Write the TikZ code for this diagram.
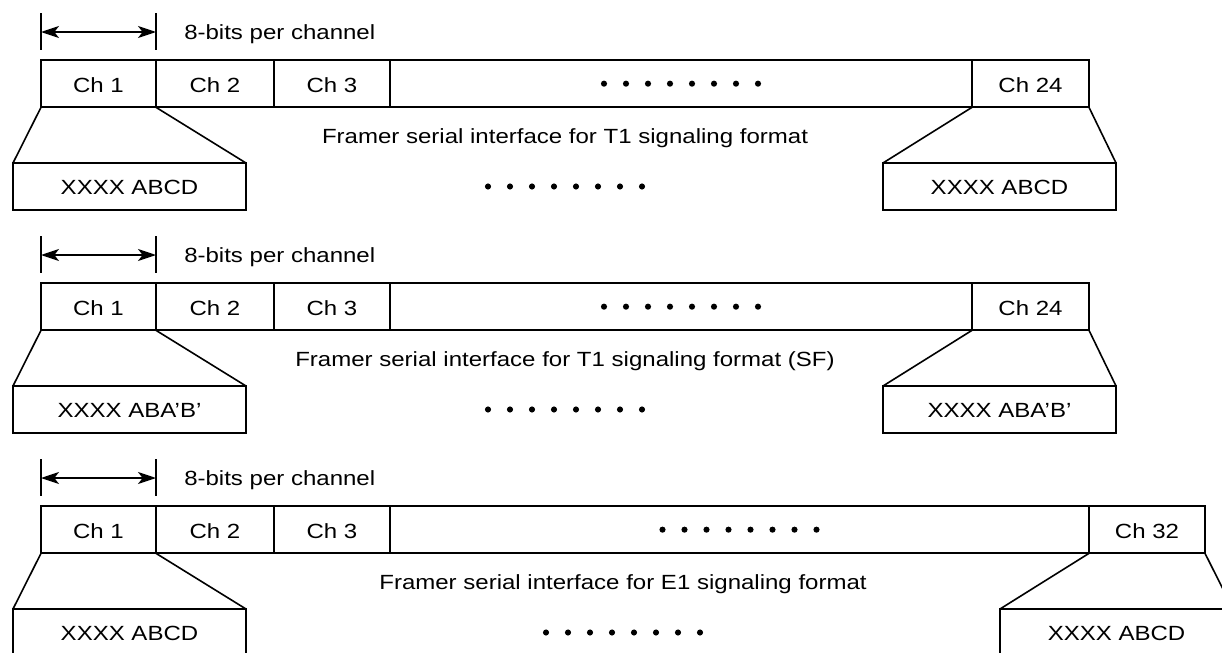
\documentclass[tikz,border=0pt]{standalone}
\usepackage{fontspec}
\setmainfont{Liberation Sans}[FakeStretch=1.17]
\usepackage{tikz}
\usetikzlibrary{arrows.meta,positioning,calc}

\tikzset{
  Cell/.style={draw, line width=1.7pt, outer sep=0pt, inner sep=0pt,
    minimum height=35.5pt, text height=12.5pt, text depth=0pt},
  WordBox/.style={Cell, minimum height=35.25pt, minimum width=174.75pt, anchor=north west},
  Fan/.style={line width=1.2pt},
  Caption/.style={inner sep=0pt, text height=11pt, text depth=0pt},
  DimArrow/.style={line width=1.2pt,
    {Stealth[length=13.5pt,width=9pt,inset=3.5pt]}-{Stealth[length=13.5pt,width=9pt,inset=3.5pt]}},
}

\begin{document}
\begin{tikzpicture}[x=0.75pt, y=-0.75pt,
  every node/.style={font=\fontsize{15.4pt}{18pt}\selectfont}]
  \clip (0,0) rectangle (1222,653);

  % T1 signaling format
  \begin{scope}
    \coordinate (ala) at (41,32);
    \coordinate (ara) at (156,32);
    \draw[Fan] (41,13) -- (41,50);
    \draw[Fan] (156,13) -- (156,50);
    \draw[DimArrow] (ala) -- (ara);
    \node[inner sep=0pt, anchor=base west] (bita) at (184,39.5) {8-bits per channel};

    \node[Cell, minimum width=86.25pt, anchor=north west] (c1a) at (41,60) {Ch 1};
    \node[Cell, minimum width=88.5pt, right=0pt of c1a] (c2a) {Ch 2};
    \node[Cell, minimum width=87pt, right=0pt of c2a] (c3a) {Ch 3};
    \node[Cell, minimum width=436.5pt, right=0pt of c3a] (dca) {};
    \node[Cell, minimum width=87.75pt, right=0pt of dca] (c24a) {Ch 24};

    \node[WordBox] (xla) at (13,163) {XXXX ABCD};
    \node[WordBox] (xra) at (883,163) {XXXX ABCD};
    \draw[Fan] (c1a.south west) -- (xla.north west);
    \draw[Fan] (c1a.south east) -- (xla.north east);
    \draw[Fan] (c24a.south west) -- (xra.north west);
    \draw[Fan] (c24a.south east) -- (xra.north east);

    \node[Caption] (capa) at (565,136) {Framer serial interface for T1 signaling format};
    \coordinate (lda) at (capa |- xla.center);
    \foreach \k in {0,...,7} {
      \fill ($(dca.center)+(-77+22*\k,0)$) circle (2.3pt);
      \fill ($(lda)+(-77+22*\k,0)$) circle (2.3pt);
    }
  \end{scope}

  % T1 signaling format (SF)
  \begin{scope}[shift={(0,223)}]
    \coordinate (alb) at (41,32);
    \coordinate (arb) at (156,32);
    \draw[Fan] (41,13) -- (41,50);
    \draw[Fan] (156,13) -- (156,50);
    \draw[DimArrow] (alb) -- (arb);
    \node[inner sep=0pt, anchor=base west] (bitb) at (184,39.5) {8-bits per channel};

    \node[Cell, minimum width=86.25pt, anchor=north west] (c1b) at (41,60) {Ch 1};
    \node[Cell, minimum width=88.5pt, right=0pt of c1b] (c2b) {Ch 2};
    \node[Cell, minimum width=87pt, right=0pt of c2b] (c3b) {Ch 3};
    \node[Cell, minimum width=436.5pt, right=0pt of c3b] (dcb) {};
    \node[Cell, minimum width=87.75pt, right=0pt of dcb] (c24b) {Ch 24};

    \node[WordBox] (xlb) at (13,163) {XXXX ABA'B'};
    \node[WordBox] (xrb) at (883,163) {XXXX ABA'B'};
    \draw[Fan] (c1b.south west) -- (xlb.north west);
    \draw[Fan] (c1b.south east) -- (xlb.north east);
    \draw[Fan] (c24b.south west) -- (xrb.north west);
    \draw[Fan] (c24b.south east) -- (xrb.north east);

    \node[Caption] (capb) at (565,136) {Framer serial interface for T1 signaling format (SF)};
    \coordinate (ldb) at (capb |- xlb.center);
    \foreach \k in {0,...,7} {
      \fill ($(dcb.center)+(-77+22*\k,0)$) circle (2.3pt);
      \fill ($(ldb)+(-77+22*\k,0)$) circle (2.3pt);
    }
  \end{scope}

  % E1 signaling format
  \begin{scope}[shift={(0,446)}]
    \coordinate (alc) at (41,32);
    \coordinate (arc) at (156,32);
    \draw[Fan] (41,13) -- (41,50);
    \draw[Fan] (156,13) -- (156,50);
    \draw[DimArrow] (alc) -- (arc);
    \node[inner sep=0pt, anchor=base west] (bitc) at (184,39.5) {8-bits per channel};

    \node[Cell, minimum width=86.25pt, anchor=north west] (c1c) at (41,60) {Ch 1};
    \node[Cell, minimum width=88.5pt, right=0pt of c1c] (c2c) {Ch 2};
    \node[Cell, minimum width=87pt, right=0pt of c2c] (c3c) {Ch 3};
    \node[Cell, minimum width=524.25pt, right=0pt of c3c] (dcc) {};
    \node[Cell, minimum width=87pt, right=0pt of dcc] (c32c) {Ch 32};

    \node[WordBox] (xlc) at (13,163) {XXXX ABCD};
    \node[WordBox] (xrc) at (1000,163) {XXXX ABCD};
    \draw[Fan] (c1c.south west) -- (xlc.north west);
    \draw[Fan] (c1c.south east) -- (xlc.north east);
    \draw[Fan] (c32c.south west) -- (xrc.north west);
    \draw[Fan] (c32c.south east) -- (xrc.north east);

    \node[Caption] (capc) at (623,136) {Framer serial interface for E1 signaling format};
    \coordinate (ldc) at (capc |- xlc.center);
    \foreach \k in {0,...,7} {
      \fill ($(dcc.center)+(-77+22*\k,0)$) circle (2.3pt);
      \fill ($(ldc)+(-77+22*\k,0)$) circle (2.3pt);
    }
  \end{scope}
\end{tikzpicture}
\end{document}
